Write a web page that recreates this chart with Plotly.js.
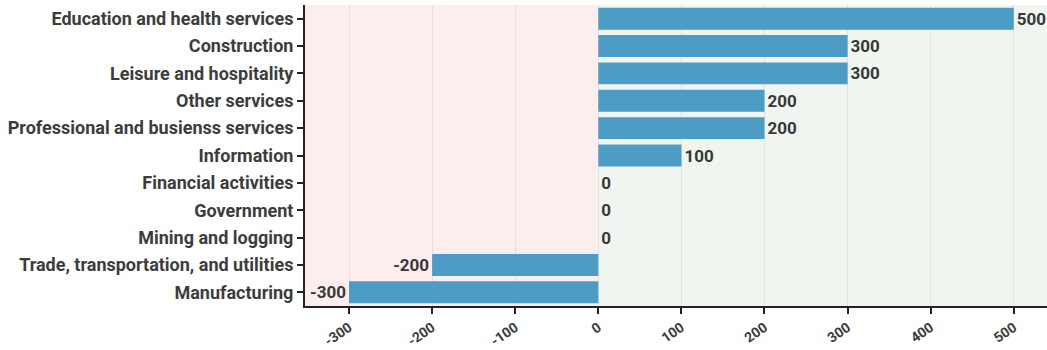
<!DOCTYPE html>
<html><head><meta charset="utf-8">
<script src="https://cdn.plot.ly/plotly-3.0.1.min.js"></script>
<style>html,body{margin:0;padding:0;background:#fff}#chart{width:1047px;height:350px}</style>
</head><body><div id="chart"></div>
<script>
const categories = [
  "Education and health services",
  "Construction",
  "Leisure and hospitality",
  "Other services",
  "Professional and busienss services",
  "Information",
  "Financial activities",
  "Government",
  "Mining and logging",
  "Trade, transportation, and utilities",
  "Manufacturing"
];
const values = [500, 300, 300, 200, 200, 100, 0, 0, 0, -200, -300];
const xTicks = [-300, -200, -100, 0, 100, 200, 300, 400, 500];

const xRange = [-353, 540];
const trace = {
  type: 'bar',
  orientation: 'h',
  y: categories,
  x: values,
  text: values.map(String),
  textposition: 'outside',
  cliponaxis: false,
  textfont: {family: 'Roboto, sans-serif', size: 17, color: '#383838', weight: 'bold'},
  marker: {color: '#4c9cc6', line: {color: 'rgba(0,0,0,0)', width: 0}},
  width: 0.8,
  hoverinfo: 'skip'
};
const layout = {
  width: 1047, height: 350,
  margin: {l: 305, r: 0, t: 5, b: 44},
  paper_bgcolor: '#fff', plot_bgcolor: 'rgba(0,0,0,0)',
  showlegend: false,
  font: {family: 'Roboto, sans-serif', color: '#3c3c3c'},
  xaxis: {
    range: xRange, tickvals: xTicks, ticktext: xTicks.map(String),
    tickangle: -35, ticks: 'outside', ticklen: 6, tickcolor: '#222', tickwidth: 2,
    showline: true, linecolor: '#222', linewidth: 2,
    showgrid: true, gridcolor: 'rgba(0,0,0,0.08)', zeroline: false,
    tickfont: {size: 14, color: '#3c3c3c', weight: 'bold'}
  },
  yaxis: {
    autorange: 'reversed', ticks: 'outside', ticklen: 6, tickcolor: '#222', tickwidth: 2,
    showline: true, linecolor: '#222', linewidth: 2, showgrid: false,
    tickfont: {size: 18, color: '#3c3c3c', weight: 'bold'}
  },
  shapes: [
    {type: 'rect', xref: 'x', yref: 'paper', x0: xRange[0], x1: 0, y0: 0, y1: 1,
     fillcolor: '#fdeeee', line: {width: 0}, layer: 'below'},
    {type: 'rect', xref: 'x', yref: 'paper', x0: 0, x1: xRange[1], y0: 0, y1: 1,
     fillcolor: '#f0f6ef', line: {width: 0}, layer: 'below'}
  ]
};
Plotly.newPlot('chart', [trace], layout, {displayModeBar: false, staticPlot: true});
</script></body></html>
